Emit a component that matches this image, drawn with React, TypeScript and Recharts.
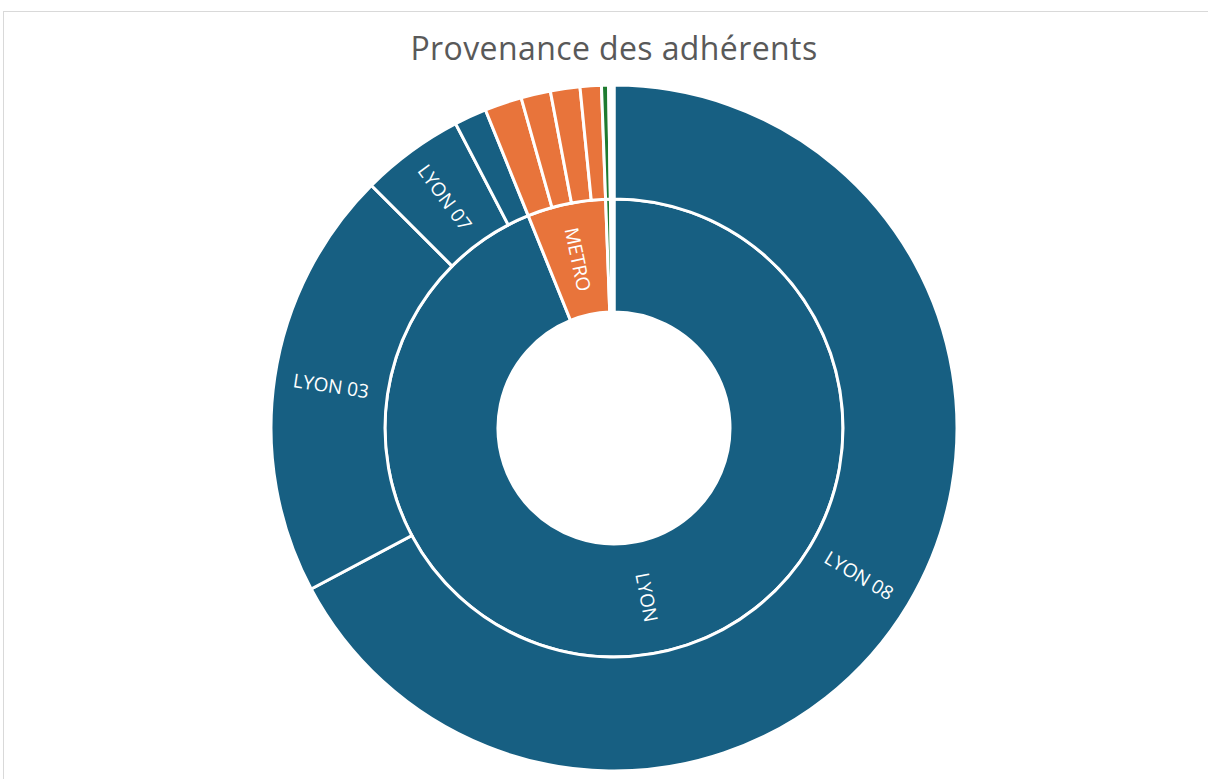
import { PieChart, Pie, Cell } from 'recharts';

const innerNames = ['LYON', 'METRO', 'AUTRE', '(vide)'];
const innerValues = [338, 19.9, 1.2, 0.9];
const innerColors = ['#175f82', '#e8743b', '#1e7b2f', '#ffffff'];

const outerNames = ['LYON 08', 'LYON 03', 'LYON 07', 'LYON x', 'METRO 1', 'METRO 2', 'METRO 3', 'METRO 4', 'AUTRE', '(vide)'];
const outerLabels = ['LYON 08', 'LYON 03', 'LYON 07', '', '', '', '', '', '', ''];
const outerValues = [242, 73, 17.5, 5.5, 6.3, 5, 5, 3.6, 1.2, 0.9];
const outerColors = ['#175f82', '#175f82', '#175f82', '#175f82', '#e8743b', '#e8743b', '#e8743b', '#e8743b', '#1e7b2f', '#ffffff'];

const innerData = innerNames.map((name, i) => ({ name, value: innerValues[i], label: i < 2 ? name : '' }));
const outerData = outerNames.map((name, i) => ({ name, value: outerValues[i], label: outerLabels[i] }));

const RAD = Math.PI / 180;

// labels sit along the radius, flipped so they never read upside down
function radialLabel(props: any) {
  const { cx, cy, midAngle, innerRadius, outerRadius, payload } = props;
  const text = payload?.label ?? props.label;
  if (!text) return null;
  const r = (innerRadius + outerRadius) / 2;
  const x = cx + r * Math.cos(-midAngle * RAD);
  const y = cy + r * Math.sin(-midAngle * RAD);
  let rot = -midAngle;
  while (rot > 90) rot -= 180;
  while (rot <= -90) rot += 180;
  return (
    <text
      x={x}
      y={y}
      fill="#fff"
      fontSize={19}
      fontFamily="'Open Sans', sans-serif"
      textAnchor="middle"
      dominantBaseline="central"
      transform={`rotate(${rot}, ${x}, ${y})`}
    >
      {text}
    </text>
  );
}

export default function App() {
  return (
    <div style={{ position: 'absolute', left: 0, top: 0, width: 1208, height: 779, overflow: 'hidden', background: '#fff' }}>
      <div style={{ position: 'absolute', left: 3, top: 11, width: 1230, height: 800, border: '1px solid #d9d9d9' }} />
      <div
        style={{
          position: 'absolute',
          left: 0,
          top: 26,
          width: 1228,
          textAlign: 'center',
          fontFamily: "'Open Sans', sans-serif",
          fontSize: 32,
          letterSpacing: 0.4,
          color: '#595959',
        }}
      >
        Provenance des adhérents
      </div>
      <div style={{ position: 'absolute', left: 0, top: 0 }}>
        <PieChart width={1208} height={779} margin={{ top: 0, right: 0, bottom: 0, left: 0 }}>
          <Pie
            data={innerData}
            dataKey="value"
            nameKey="name"
            cx={614}
            cy={428}
            innerRadius={116}
            outerRadius={229}
            startAngle={90}
            endAngle={-270}
            stroke="#fff"
            strokeWidth={3}
            label={radialLabel}
            labelLine={false}
            isAnimationActive={false}
          >
            {innerData.map((d, i) => (
              <Cell key={d.name} fill={innerColors[i]} />
            ))}
          </Pie>
          <Pie
            data={outerData}
            dataKey="value"
            nameKey="name"
            cx={614}
            cy={428}
            innerRadius={229}
            outerRadius={343}
            startAngle={90}
            endAngle={-270}
            stroke="#fff"
            strokeWidth={3}
            label={radialLabel}
            labelLine={false}
            isAnimationActive={false}
          >
            {outerData.map((d, i) => (
              <Cell key={d.name} fill={outerColors[i]} />
            ))}
          </Pie>
        </PieChart>
      </div>
    </div>
  );
}
